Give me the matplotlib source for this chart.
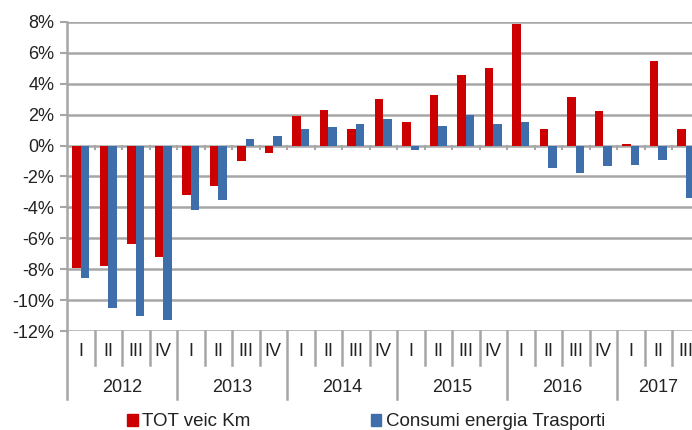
import matplotlib
matplotlib.use("Agg")
import matplotlib.pyplot as plt
from matplotlib.lines import Line2D
from matplotlib.patches import Patch

years = ["2012", "2013", "2014", "2015", "2016", "2017"]
quarters = ["I", "II", "III", "IV", "I", "II", "III", "IV", "I", "II", "III", "IV",
            "I", "II", "III", "IV", "I", "II", "III", "IV", "I", "II", "III"]
tot_veic_km = [-7.9, -7.8, -6.4, -7.2, -3.2, -2.6, -1.0, -0.45,
               1.9, 2.3, 1.1, 3.0, 1.5, 3.25, 4.6, 5.0,
               7.85, 1.1, 3.15, 2.25, 0.1, 5.5, 1.1]
consumi_energia = [-8.6, -10.5, -11.0, -11.3, -4.2, -3.5, 0.45, 0.6,
                   1.05, 1.2, 1.4, 1.7, -0.3, 1.3, 1.95, 1.4,
                   1.55, -1.45, -1.75, -1.3, -1.25, -0.95, -3.4]
yticks = [-12, -10, -8, -6, -4, -2, 0, 2, 4, 6, 8]

RED = "#CC0000"
BLUE = "#3F6FAA"
GRID = "#A6A6A6"
TXT = "#222222"

plt.rcParams['font.family'] = ['Liberation Sans', 'DejaVu Sans']

W, H = 692, 430
fig = plt.figure(figsize=(W / 100, H / 100), dpi=100)
n = len(quarters)
cw = 27.5
left_px, top_px, bot_px = 67, 22, 331
ax = fig.add_axes([left_px / W, (H - bot_px) / H, n * cw / W, (bot_px - top_px) / H])

x = list(range(n))
bw = 0.31
ax.bar([i - bw / 2 for i in x], tot_veic_km, width=bw, color=RED, zorder=3)
ax.bar([i + bw / 2 for i in x], consumi_energia, width=bw, color=BLUE, zorder=3)

ax.set_xlim(-0.5, n - 0.5)
ax.set_ylim(-12, 8)
ax.set_yticks(yticks)
ax.set_yticklabels([f"{v}%" for v in yticks], fontsize=13, color=TXT)
ax.tick_params(axis='y', length=5, width=1.5, color=GRID, pad=4)
ax.set_xticks([])
for yv in yticks:
    ax.axhline(yv, color=GRID, lw=1.8, zorder=1)
for s in ["top", "right", "bottom"]:
    ax.spines[s].set_visible(False)
ax.spines["left"].set_color(GRID)
ax.spines["left"].set_linewidth(1.8)

ph = bot_px - top_px
trans = ax.get_xaxis_transform()
# small ticks at zero line
for i in range(1, n):
    ax.plot([i - 0.5, i - 0.5], [0, -0.25], color=GRID, lw=1.5, zorder=2)
# category separators and labels
for i in range(n + 1):
    b = i - 0.5
    if i % 4 == 0:
        ax.add_line(Line2D([b, b], [0, -68 / ph], transform=trans, color=GRID, lw=1.8, clip_on=False))
    else:
        ax.add_line(Line2D([b, b], [0, -34 / ph], transform=trans, color=GRID, lw=1.8, clip_on=False))
for i, q in enumerate(quarters):
    ax.text(i, -21 / ph, q, transform=trans, ha='center', va='center', fontsize=13, color=TXT)
for k, yr in enumerate(years):
    start = 4 * k
    end = min(4 * k + 3, n - 1)
    cx = (start + end) / 2
    ax.text(cx, -57 / ph, yr, transform=trans, ha='center', va='center', fontsize=13, color=TXT)

handles = [Patch(color=RED, label="TOT veic Km"), Patch(color=BLUE, label="Consumi energia Trasporti")]
fig.legend(handles=handles, loc='center left', bbox_to_anchor=(118 / W, 1 - 422 / H), ncol=2,
           frameon=False, fontsize=13.5, handlelength=0.55, handleheight=0.55, handletextpad=0.25,
           columnspacing=6.4, borderpad=0, labelcolor=TXT)

fig.savefig("out.png", dpi=100)
